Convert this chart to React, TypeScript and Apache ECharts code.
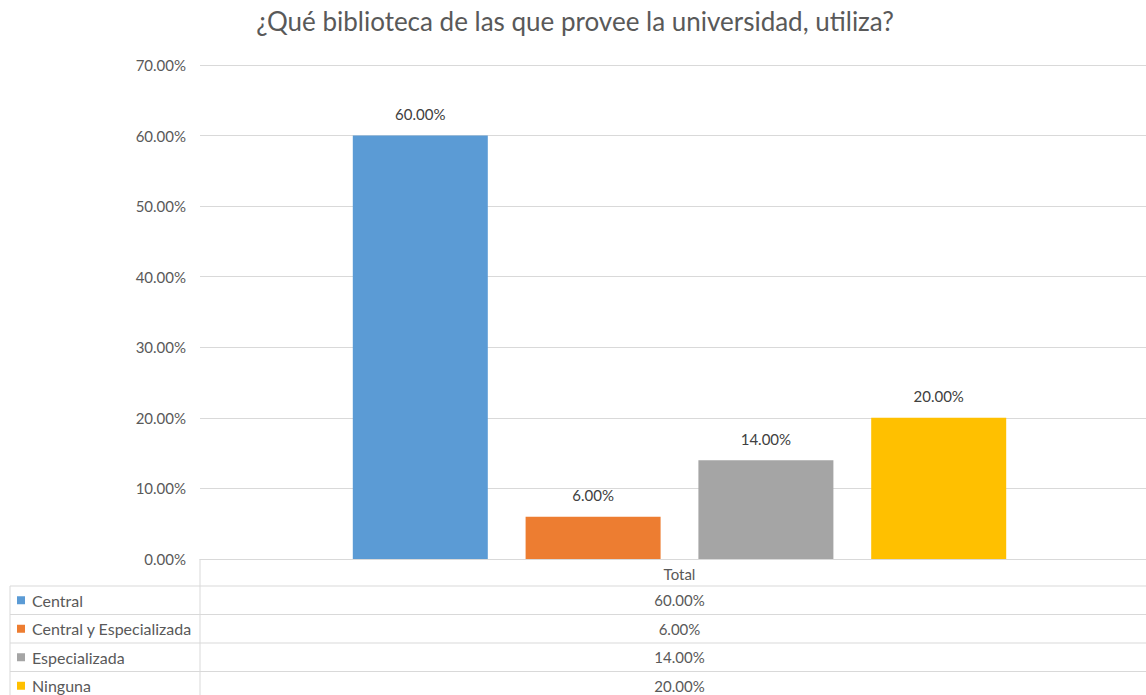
import React, { useEffect, useRef } from "react";
import * as echarts from "echarts";

const titleText = "¿Qué biblioteca de las que provee la universidad, utiliza?";
const categories = ["Total"];
const seriesNames = ["Central", "Central y Especializada", "Especializada", "Ninguna"];
const seriesValues = [60, 6, 14, 20];
const seriesColors = ["#5B9BD5", "#ED7D31", "#A5A5A5", "#FFC000"];
const yMin = 0;
const yMax = 70;
const yInterval = 10;

const FONT = "Lato, 'Open Sans', sans-serif";
const fmt = (v: number) => v.toFixed(2) + "%";

export default function App() {
  const ref = useRef<HTMLDivElement>(null);
  useEffect(() => {
    if (!ref.current) return;
    const chart = echarts.init(ref.current, undefined, { renderer: "svg" });
    const option: any = {
      animation: false,
      backgroundColor: "#ffffff",
      textStyle: { fontFamily: FONT },
      title: {
        text: titleText,
        left: 570,
        textAlign: "center",
        top: 3,
        textStyle: { fontFamily: FONT, fontSize: 26, fontWeight: "normal", color: "#595959" },
      },
      grid: { left: 200, top: 65, right: 0, bottom: 136, containLabel: false },
      xAxis: {
        type: "category",
        data: categories,
        axisLine: { show: true, lineStyle: { color: "#D9D9D9" } },
        axisTick: { show: false },
        axisLabel: { color: "#595959", fontSize: 15, fontFamily: FONT, margin: 7 },
      },
      yAxis: {
        type: "value",
        min: yMin,
        max: yMax,
        interval: yInterval,
        axisLine: { show: false },
        axisTick: { show: false },
        axisLabel: { color: "#595959", fontSize: 15, fontFamily: FONT, margin: 14, formatter: (v: number) => fmt(v) },
        splitLine: { lineStyle: { color: "#D9D9D9" } },
      },
      series: seriesNames.map((name, i) => ({
        name,
        type: "bar",
        data: [seriesValues[i]],
        barWidth: 135,
        barGap: "28%",
        itemStyle: { color: seriesColors[i] },
        label: {
          show: true,
          position: "top",
          distance: 14,
          color: "#404040",
          fontSize: 15,
          fontFamily: FONT,
          formatter: (p: any) => fmt(p.value),
        },
      })),
    };
    chart.setOption(option);

    const cx = chart.convertToPixel({ xAxisIndex: 0 }, categories[0]) as number;
    const rowTop = 586;
    const rowH = 28.5;
    const lineColor = "#D9D9D9";
    const elements: any[] = [];
    for (let i = 0; i <= seriesNames.length; i++) {
      const y = rowTop + i * rowH;
      elements.push({
        type: "line",
        shape: { x1: 10, y1: y, x2: 1159, y2: y },
        style: { stroke: lineColor, lineWidth: 1 },
        silent: true,
      });
    }
    elements.push({
      type: "line",
      shape: { x1: 10, y1: rowTop, x2: 10, y2: 695 },
      style: { stroke: lineColor, lineWidth: 1 },
    });
    elements.push({
      type: "line",
      shape: { x1: 200, y1: 559, x2: 200, y2: 695 },
      style: { stroke: lineColor, lineWidth: 1 },
    });
    seriesNames.forEach((name, i) => {
      const yc = rowTop + i * rowH + rowH / 2;
      elements.push({
        type: "rect",
        shape: { x: 17, y: yc - 4, width: 8, height: 8 },
        style: { fill: seriesColors[i] },
      });
      elements.push({
        type: "text",
        x: 32,
        y: yc,
        style: {
          text: name,
          fill: "#595959",
          font: `16px ${FONT}`,
          verticalAlign: "middle",
          align: "left",
        },
      });
      elements.push({
        type: "text",
        x: cx,
        y: yc,
        style: {
          text: fmt(seriesValues[i]),
          fill: "#595959",
          font: `15px ${FONT}`,
          verticalAlign: "middle",
          align: "center",
        },
      });
    });
    chart.setOption({ graphic: { elements } });
    return () => chart.dispose();
  }, []);
  return (
    <div style={{ position: "fixed", left: 0, top: 0, width: 1146, height: 695, overflow: "hidden", background: "#fff" }}>
      <div ref={ref} style={{ position: "absolute", left: 0, top: 0, width: 1159, height: 695 }} />
    </div>
  );
}
